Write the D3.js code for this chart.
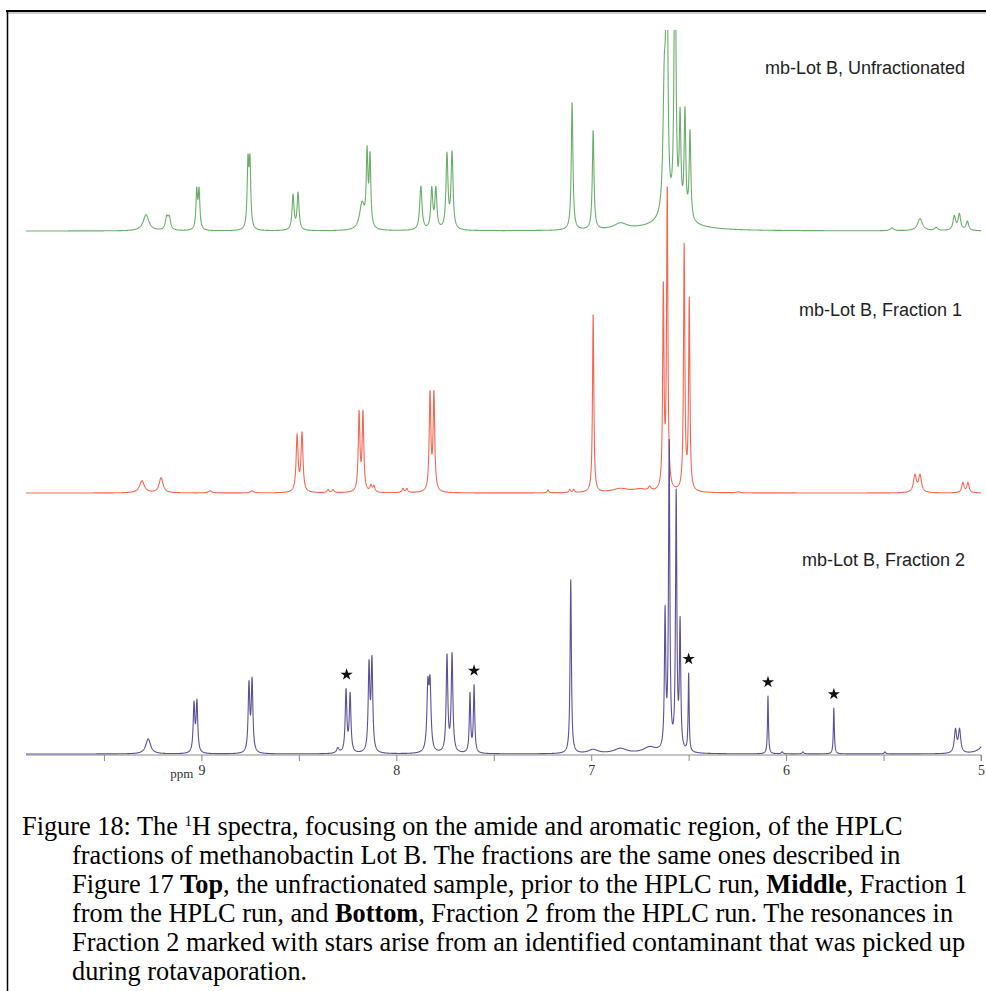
<!DOCTYPE html>
<html>
<head>
<meta charset="utf-8">
<script src="https://cdn.jsdelivr.net/npm/d3@7/dist/d3.min.js"></script>
<style>
  html, body { margin: 0; padding: 0; background: #fff; }
  svg { display: block; }
</style>
</head>
<body>
<svg id="chart" width="986" height="991"></svg>
<script>
// 1H NMR spectra of methanobactin Lot B: peak tables [ppm, height, half-width (ppm)]
const unfractionatedPeaks = [
  [9.284, 16, 0.018], [9.178, 12, 0.008], [9.165, 12, 0.008],
  [9.024, 38, 0.005], [9.012, 38, 0.005],
  [8.761, 64, 0.005], [8.751, 64, 0.005],
  [8.530, 35, 0.006], [8.504, 37, 0.006],
  [8.176, 26, 0.015], [8.150, 72, 0.005], [8.135, 69, 0.005],
  [7.874, 44, 0.007], [7.818, 40, 0.006], [7.797, 40, 0.006],
  [7.740, 74, 0.006], [7.714, 76, 0.006],
  [7.098, 128, 0.005], [6.990, 99, 0.005], [6.850, 6, 0.04],
  [6.625, 120, 0.008], [6.612, 330, 0.005], [6.570, 330, 0.005],
  [6.544, 95, 0.005], [6.519, 105, 0.005], [6.493, 88, 0.005],
  [6.580, 10, 0.12],
  [5.457, 3, 0.01], [5.313, 12, 0.015], [5.230, 3, 0.01],
  [5.137, 14, 0.008], [5.111, 16, 0.008], [5.070, 9, 0.008]
];
const fraction1Peaks = [
  [9.305, 12, 0.015], [9.207, 15, 0.012], [8.956, 2, 0.01], [8.740, 2, 0.01],
  [8.509, 56, 0.006], [8.484, 58, 0.006],
  [8.350, 3, 0.006], [8.325, 3, 0.006],
  [8.191, 78, 0.005], [8.171, 78, 0.005],
  [8.130, 6, 0.006], [8.115, 6, 0.006],
  [7.966, 4, 0.006], [7.946, 4, 0.006],
  [7.827, 97, 0.005], [7.807, 97, 0.005],
  [7.222, 3, 0.005], [7.110, 3, 0.005], [7.090, 3, 0.005],
  [6.990, 179, 0.004], [6.850, 4, 0.05], [6.750, 3, 0.04], [6.700, 4, 0.008],
  [6.630, 200, 0.004], [6.610, 300, 0.004],
  [6.523, 245, 0.004], [6.497, 190, 0.004],
  [6.247, 1, 0.01],
  [5.339, 17, 0.009], [5.313, 17, 0.009],
  [5.093, 10, 0.007], [5.067, 10, 0.007]
];
const fraction2Peaks = [
  [9.273, 15, 0.015],
  [9.038, 48, 0.005], [9.023, 50, 0.005],
  [8.756, 67, 0.005], [8.740, 71, 0.005],
  [8.300, 5, 0.008], [8.258, 62, 0.005], [8.237, 58, 0.005],
  [8.140, 85, 0.005], [8.125, 90, 0.005],
  [7.838, 62, 0.006], [7.827, 64, 0.006],
  [7.740, 96, 0.005], [7.714, 98, 0.005],
  [7.622, 59, 0.004], [7.601, 67, 0.004],
  [7.105, 174, 0.004],
  [6.990, 4, 0.03], [6.850, 5, 0.04], [6.700, 6, 0.04],
  [6.621, 135, 0.004], [6.600, 305, 0.004], [6.564, 255, 0.004],
  [6.544, 125, 0.004], [6.500, 78, 0.003],
  [6.093, 58, 0.003], [6.020, 2, 0.005], [5.914, 2, 0.005],
  [5.755, 46, 0.003], [5.493, 2, 0.005],
  [5.131, 23, 0.007], [5.110, 23, 0.007], [4.980, 10, 0.03]
];

// Contaminant resonances in Fraction 2 (marked with stars)
const starredShifts = [8.255, 7.601, 6.500, 6.093, 5.755];

const spectrumLabels = ["mb-Lot B, Unfractionated", "mb-Lot B, Fraction 1", "mb-Lot B, Fraction 2"];
const axisTicks = [9.5, 9, 8.5, 8, 7.5, 7, 6.5, 6, 5.5, 5];
const axisLabelTicks = [9, 8, 7, 6, 5];

const svg = d3.select("#chart");

const x = d3.scaleLinear().domain([9.9, 5.0]).range([26, 981]);

// shared ppm sampling grid across the plotted window
const grid = d3.range(9.9, 4.999, -0.0008);
function lineshape(peaks) {
  return grid.map(p => {
    let s = 0;
    for (const [c, h, w] of peaks) s += h * w * w / ((p - c) * (p - c) + w * w);
    return [p, s];
  });
}

const traces = [
  { peaks: unfractionatedPeaks, base: 231, color: "#5ba55b", label: spectrumLabels[0], lx: 965, ly: 74, clipTop: 30 },
  { peaks: fraction1Peaks, base: 493, color: "#f4573f", label: spectrumLabels[1], lx: 962, ly: 316, clipTop: 0 },
  { peaks: fraction2Peaks, base: 754, color: "#4b3c8e", label: spectrumLabels[2], lx: 965, ly: 566, clipTop: 0 }
];

const defs = svg.append("defs");
traces.forEach((t, i) => {
  defs.append("clipPath").attr("id", "clip" + i)
    .append("rect").attr("x", 0).attr("y", t.clipTop).attr("width", 986).attr("height", 991 - t.clipTop);
});

traces.forEach((t, i) => {
  const y = d3.scaleLinear().domain([0, 300]).range([t.base, t.base - 300]);
  t.y = y;
  t.data = lineshape(t.peaks);
  svg.append("path")
    .datum(t.data)
    .attr("clip-path", "url(#clip" + i + ")")
    .attr("fill", "none")
    .attr("stroke", t.color)
    .attr("stroke-width", 1.1)
    .attr("stroke-opacity", 0.9)
    .attr("stroke-linejoin", "round")
    .attr("d", d3.line().x(d => x(d[0])).y(d => y(d[1])));

  svg.append("text")
    .attr("x", t.lx).attr("y", t.ly)
    .attr("text-anchor", "end")
    .attr("font-family", "Liberation Sans, Arial, sans-serif")
    .attr("font-size", 18)
    .attr("fill", "#222")
    .text(t.label);
});

// stars above the contaminant peaks
const f2 = traces[2];
svg.append("g").selectAll("path")
  .data(starredShifts)
  .join("path")
  .attr("d", d3.symbol(d3.symbolStar, 46))
  .attr("fill", "#111")
  .attr("transform", s => {
    const near = f2.data.filter(d => Math.abs(d[0] - s) < 0.006);
    const top = d3.max(near, d => d[1]);
    return `translate(${x(s)},${f2.y(top) - 14})`;
  });

// ppm axis
const axis = d3.axisBottom(x)
  .tickValues(axisTicks)
  .tickSize(6)
  .tickFormat(d => axisLabelTicks.includes(d) ? d3.format("d")(d) : "");
const ax = svg.append("g")
  .attr("transform", "translate(0,755)")
  .call(axis);
ax.select(".domain").attr("stroke", "#8a8a8a").attr("d", `M26,0H981V6`);
ax.selectAll(".tick line").attr("stroke", "#8a8a8a");
ax.selectAll(".tick text")
  .attr("font-family", "Liberation Serif, Times New Roman, serif")
  .attr("font-size", 14)
  .attr("fill", "#333")
  .attr("dy", "0.75em");
ax.append("text")
  .attr("x", x(9) - 8).attr("y", 22.5)
  .attr("text-anchor", "end")
  .attr("font-family", "Liberation Serif, Times New Roman, serif")
  .attr("font-size", 13)
  .attr("fill", "#333")
  .text("ppm");

// page frame
svg.append("line").attr("x1", 6).attr("x2", 986).attr("y1", 11).attr("y2", 11)
  .attr("stroke", "#000").attr("stroke-width", 2);
svg.append("line").attr("x1", 6).attr("x2", 986).attr("y1", 13).attr("y2", 13)
  .attr("stroke", "#999").attr("stroke-width", 1);
svg.append("line").attr("x1", 7.5).attr("x2", 7.5).attr("y1", 10).attr("y2", 991)
  .attr("stroke", "#000").attr("stroke-width", 1.5);

// caption
const caption = [
  [{ t: "Figure 18: The " }, { t: "1", sup: true }, { t: "H spectra, focusing on the amide and aromatic region, of the HPLC" }],
  [{ t: "fractions of methanobactin Lot B. The fractions are the same ones described in" }],
  [{ t: "Figure 17 " }, { t: "Top", b: true }, { t: ", the unfractionated sample, prior to the HPLC run, " }, { t: "Middle", b: true }, { t: ", Fraction 1" }],
  [{ t: "from the HPLC run, and " }, { t: "Bottom", b: true }, { t: ", Fraction 2 from the HPLC run. The resonances in" }],
  [{ t: "Fraction 2 marked with stars arise from an identified contaminant that was picked up" }],
  [{ t: "during rotavaporation." }]
];
const cap = svg.append("text")
  .attr("font-family", "Liberation Serif, Times New Roman, serif")
  .attr("font-size", 26.3)
  .attr("fill", "#000");
caption.forEach((line, i) => {
  const lineEl = cap.append("tspan")
    .attr("x", i === 0 ? 22 : 72)
    .attr("y", 835 + i * 29);
  line.forEach(seg => {
    const s = lineEl.append("tspan").text(seg.t);
    if (seg.b) s.attr("font-weight", "bold");
    if (seg.sup) s.attr("font-size", 15).attr("baseline-shift", "9");
  });
});
</script>
</body>
</html>
